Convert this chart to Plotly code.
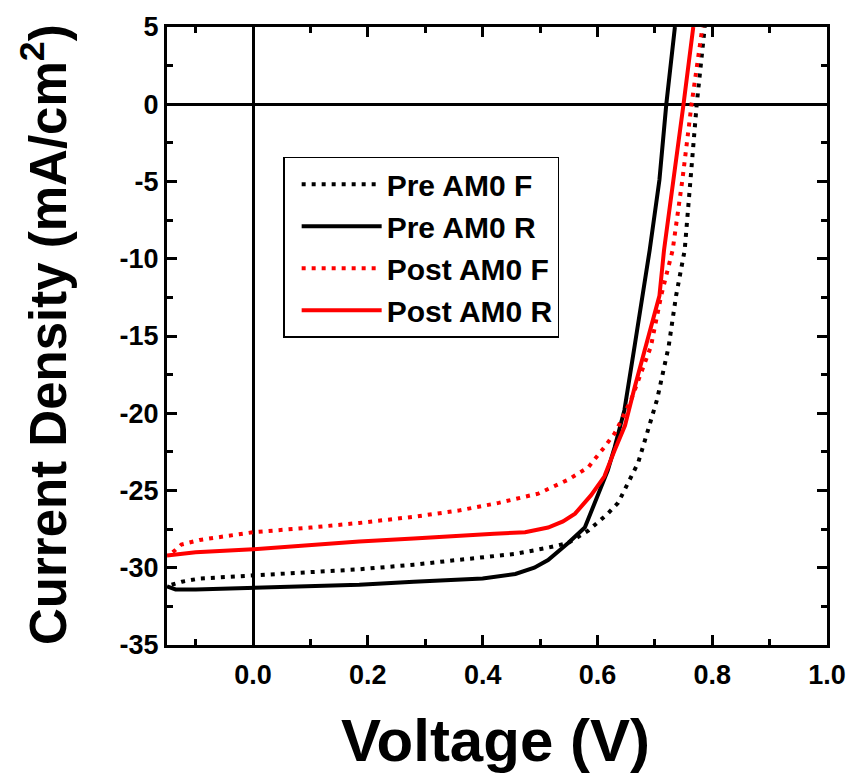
import plotly.graph_objects as go

# ---- data ----
pre_f_v = [-0.142, -0.124, -0.093, 0.0, 0.1, 0.185, 0.28, 0.358, 0.457, 0.514, 0.549, 0.584, 0.618, 0.636,
           0.653, 0.671, 0.688, 0.704, 0.724, 0.737, 0.752, 0.762, 0.773, 0.787]
pre_f_j = [-31.1, -30.9, -30.7, -30.5, -30.3, -30.1, -29.8, -29.5, -29.1, -28.7, -28.4, -27.6, -26.5, -25.8,
           -24.5, -23.2, -21.1, -19.1, -15.7, -12.4, -9.45, -4.9, 0.0, 5.0]

pre_r_v = [-0.15, -0.135, -0.1, 0.0, 0.1, 0.185, 0.28, 0.342, 0.4, 0.457, 0.49, 0.514, 0.549, 0.578,
           0.601, 0.618, 0.63, 0.647, 0.665, 0.679, 0.691, 0.708, 0.72, 0.735]
pre_r_j = [-31.2, -31.4, -31.4, -31.3, -31.2, -31.1, -30.9, -30.8, -30.7, -30.4, -30.0, -29.5, -28.4, -27.4,
           -25.2, -23.7, -22.2, -19.8, -15.6, -12.4, -9.45, -4.9, 0.0, 5.0]

post_f_v = [-0.14, -0.125, -0.093, 0.0, 0.1, 0.185, 0.28, 0.358, 0.428, 0.497, 0.549, 0.584, 0.612, 0.63,
            0.641, 0.66, 0.693, 0.711, 0.731, 0.748, 0.764, 0.783]
post_f_j = [-29.0, -28.5, -28.2, -27.7, -27.4, -27.1, -26.7, -26.3, -25.8, -25.2, -24.3, -23.5, -22.2, -21.3,
            -20.5, -19.0, -15.7, -12.4, -9.45, -4.9, 0.0, 5.0]

post_r_v = [-0.15, -0.1, 0.0, 0.1, 0.185, 0.28, 0.358, 0.42, 0.474, 0.514, 0.54, 0.561, 0.589, 0.612,
            0.63, 0.648, 0.665, 0.687, 0.708, 0.716, 0.733, 0.75, 0.767]
post_r_j = [-29.2, -29.0, -28.8, -28.5, -28.3, -28.1, -27.9, -27.8, -27.7, -27.4, -27.0, -26.5, -25.3, -24.1,
            -22.4, -20.8, -18.3, -15.3, -12.4, -9.45, -4.9, 0.0, 5.0]

series_names = ["Pre AM0 F", "Pre AM0 R", "Post AM0 F", "Post AM0 R"]

x_tickvals = [0.0, 0.2, 0.4, 0.6, 0.8, 1.0]
x_ticktext = ["0.0", "0.2", "0.4", "0.6", "0.8", "1.0"]
y_tickvals = [5, 0, -5, -10, -15, -20, -25, -30, -35]
y_ticktext = ["5", "0", "-5", "-10", "-15", "-20", "-25", "-30", "-35"]

FONT = "Liberation Sans, Arial, sans-serif"

fig = go.Figure()
styles = [
    dict(color="black", dash="4px,6px"),
    dict(color="black", dash="solid"),
    dict(color="#ff0000", dash="4px,6px"),
    dict(color="#ff0000", dash="solid"),
]
data = [(pre_f_v, pre_f_j), (pre_r_v, pre_r_j), (post_f_v, post_f_j), (post_r_v, post_r_j)]
for i, ((xv, yv), name, st) in enumerate(zip(data, series_names, styles)):
    fig.add_trace(go.Scatter(
        x=xv, y=yv, mode="lines", name=name,
        line=dict(color=st["color"], dash=st["dash"], width=4),
    ))

axis_common = dict(
    showline=True, linecolor="black", linewidth=3, mirror="allticks",
    ticks="inside", ticklen=10, tickwidth=3, tickcolor="black",
    showgrid=False,
    zeroline=True, zerolinecolor="black", zerolinewidth=2.5,
    tickfont=dict(family=FONT, size=27, color="black", weight="bold"),
)

fig.update_xaxes(
    range=[-0.15, 1.0], tickvals=x_tickvals, ticktext=x_ticktext, ticklabelstandoff=4,
    minor=dict(ticks="inside", ticklen=6, tickwidth=3, tickcolor="black", dtick=0.1, tick0=0, showgrid=False),
    **axis_common,
)
fig.update_yaxes(
    range=[-35, 5], tickvals=y_tickvals, ticktext=y_ticktext,
    minor=dict(ticks="inside", ticklen=6, tickwidth=3, tickcolor="black", dtick=2.5, tick0=0, showgrid=False),
    **axis_common,
)

fig.add_annotation(
    text="Voltage (V)", xref="paper", yref="paper", x=0.498, y=-0.155,
    showarrow=False, font=dict(family=FONT, size=60, color="black", weight="bold"),
    xanchor="center", yanchor="middle",
)
fig.add_annotation(
    text="Current Density (mA/cm<sup>2</sup>)", xref="paper", yref="paper", x=-0.186, y=0.502,
    textangle=-90, showarrow=False,
    font=dict(family=FONT, size=51, color="black", weight="bold"),
    xanchor="center", yanchor="middle",
)

fig.update_layout(
    width=858, height=778,
    margin=dict(l=167, r=28, t=27, b=133),
    paper_bgcolor="white", plot_bgcolor="white",
    showlegend=True,
    legend=dict(
        x=0.176, y=0.79, xanchor="left", yanchor="top",
        bgcolor="white", bordercolor="black", borderwidth=1.5,
        font=dict(family=FONT, size=30, color="black", weight="bold"),
        itemwidth=80, tracegroupgap=0, indentation=12,
    ),
)

fig.write_html("out.html")
